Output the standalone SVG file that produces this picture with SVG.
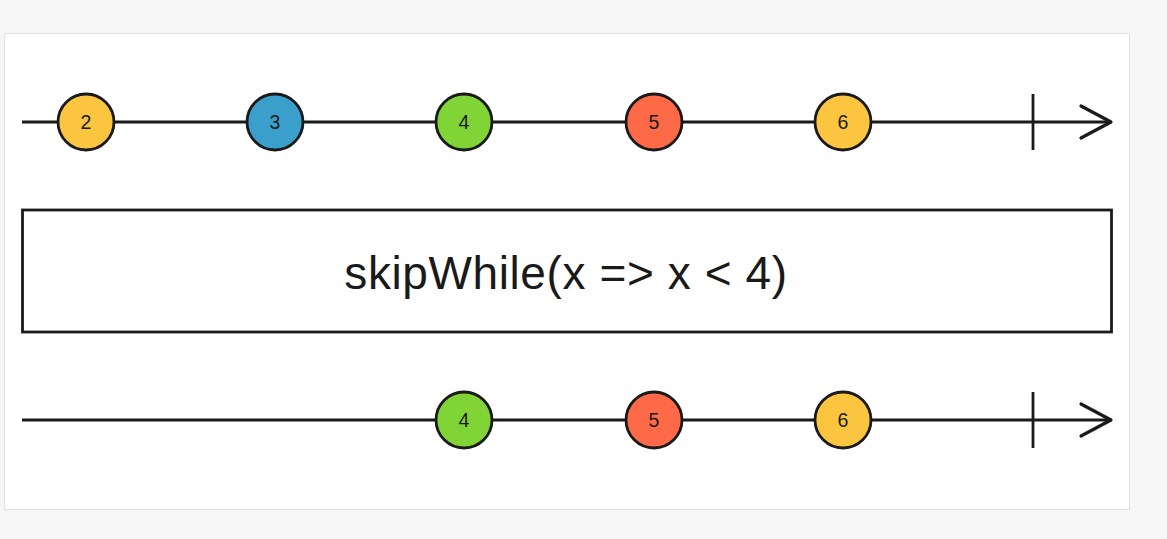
<svg xmlns="http://www.w3.org/2000/svg" width="1167" height="539" viewBox="0 0 1167 539">
  <style>
    .line { stroke: #1a1a1a; stroke-width: 2.8; fill: none; }
    .arrow { stroke: #1a1a1a; stroke-width: 3.2; fill: none; stroke-linecap: round; stroke-linejoin: round; }
    .marble { stroke: #1a1a1a; stroke-width: 2.8; }
    .num { font-family: "Liberation Sans", Arial, sans-serif; font-size: 19.5px; fill: #1a1a1a; text-anchor: middle; }
    .yellow { fill: #fbc53f; }
    .blue { fill: #3b9fcc; }
    .green { fill: #80d436; }
    .red { fill: #fe6a48; }
    .op { font-family: "Liberation Sans", Arial, sans-serif; font-size: 46px; letter-spacing: 0.6px; fill: #1a1a1a; text-anchor: middle; }
  </style>

  <!-- page background and card -->
  <rect x="0" y="0" width="1167" height="539" fill="#f6f6f6"/>
  <rect x="4.5" y="33.5" width="1125" height="476" fill="#ffffff" stroke="#e2e2e2" stroke-width="1"/>

  <!-- timelines -->
  <g id="connectors">
    <line class="line" x1="22" y1="122" x2="1111" y2="122"/>
    <line class="line" x1="1033" y1="94" x2="1033" y2="150"/>
    <polyline class="arrow" points="1081,106 1111,122 1081,138"/>

    <line class="line" x1="22" y1="420" x2="1111" y2="420"/>
    <line class="line" x1="1033" y1="392" x2="1033" y2="448"/>
    <polyline class="arrow" points="1081,404 1111,420 1081,436"/>
  </g>

  <!-- source marbles -->
  <g id="in-2"><circle class="marble yellow" cx="86" cy="122" r="28"/><text class="num" x="86" y="129">2</text></g>
  <g id="in-3"><circle class="marble blue" cx="275" cy="122" r="28"/><text class="num" x="275" y="129">3</text></g>
  <g id="in-4"><circle class="marble green" cx="464" cy="122" r="28"/><text class="num" x="464" y="129">4</text></g>
  <g id="in-5"><circle class="marble red" cx="654" cy="122" r="28"/><text class="num" x="654" y="129">5</text></g>
  <g id="in-6"><circle class="marble yellow" cx="843" cy="122" r="28"/><text class="num" x="843" y="129">6</text></g>

  <!-- operator box -->
  <g id="operator">
    <rect x="22.5" y="210" width="1089" height="122" fill="#ffffff" stroke="#1a1a1a" stroke-width="2.8"/>
    <text class="op" x="566" y="289">skipWhile(x =&gt; x &lt; 4)</text>
  </g>

  <!-- result marbles -->
  <g id="out-4"><circle class="marble green" cx="464" cy="420" r="28"/><text class="num" x="464" y="427">4</text></g>
  <g id="out-5"><circle class="marble red" cx="654" cy="420" r="28"/><text class="num" x="654" y="427">5</text></g>
  <g id="out-6"><circle class="marble yellow" cx="843" cy="420" r="28"/><text class="num" x="843" y="427">6</text></g>
</svg>
